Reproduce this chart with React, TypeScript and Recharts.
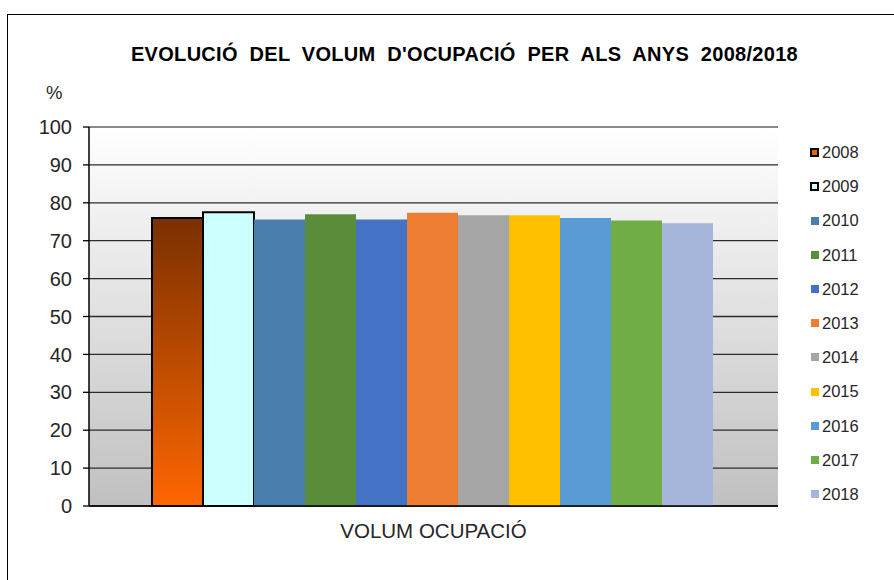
import React from "react";
import {
  BarChart,
  Bar,
  XAxis,
  YAxis,
  CartesianGrid,
  ReferenceLine,
} from "recharts";

// ---- data ----
const categories = ["VOLUM OCUPACIÓ"];
const years = ["2008", "2009", "2010", "2011", "2012", "2013", "2014", "2015", "2016", "2017", "2018"];
const occupancy = [76.0, 77.5, 75.6, 77.0, 75.6, 77.4, 76.7, 76.7, 76.0, 75.3, 74.6];
const yTicks = [0, 10, 20, 30, 40, 50, 60, 70, 80, 90, 100];
const titleText = "EVOLUCIÓ  DEL  VOLUM  D'OCUPACIÓ  PER  ALS  ANYS  2008/2018";
const unitText = "%";

// ---- styles ----
const barFills = [
  "url(#grad2008)",
  "#ccffff",
  "#4a7ead",
  "#5a8c3a",
  "#4472c4",
  "#ed7d31",
  "#a5a5a5",
  "#ffc000",
  "#5b9bd5",
  "#70ad47",
  "#a6b6da",
];
const legendFills = [
  "#f06000",
  "#ccffff",
  "#4a7ead",
  "#5a8c3a",
  "#4472c4",
  "#ed7d31",
  "#a5a5a5",
  "#ffc000",
  "#5b9bd5",
  "#70ad47",
  "#a6b6da",
];
const outlined = [true, true, false, false, false, false, false, false, false, false, false];

const FONT = "'Liberation Sans', Arial, sans-serif";

const chartData = categories.map((c) => {
  const row: Record<string, string | number> = { name: c };
  years.forEach((y, i) => {
    row[y] = occupancy[i];
  });
  return row;
});

function Legend() {
  return (
    <div style={{ position: "absolute", left: 810, top: 144, fontFamily: FONT }}>
      {years.map((y, i) => (
        <div
          key={y}
          style={{
            position: "absolute",
            left: 0,
            top: i * 34.2,
            height: 16.5,
            display: "flex",
            alignItems: "center",
            whiteSpace: "nowrap",
          }}
        >
          <div
            style={{
              width: outlined[i] ? 5 : 8,
              height: outlined[i] ? 5 : 8,
              background: legendFills[i],
              border: outlined[i] ? "2px solid #000" : "none",
              marginLeft: outlined[i] ? 0 : 1,
              marginRight: 3,
            }}
          />
          <span style={{ fontSize: 16.5, lineHeight: "16.5px", color: "#262626" }}>{y}</span>
        </div>
      ))}
    </div>
  );
}

export default function App() {
  return (
    <div style={{ position: "relative", width: 894, height: 580, overflow: "hidden", background: "#fff" }}>
      <style>{`body{margin:0}`}</style>
      <svg width={0} height={0} style={{ position: "absolute" }}>
        <defs>
          <linearGradient id="grad2008" x1="0" y1="0" x2="0" y2="1">
            <stop offset="0%" stopColor="#7a3000" />
            <stop offset="100%" stopColor="#ff6600" />
          </linearGradient>
          <linearGradient id="plotBg" x1="0" y1="0" x2="0" y2="1">
            <stop offset="0%" stopColor="#ffffff" />
            <stop offset="100%" stopColor="#c0c0c0" />
          </linearGradient>
        </defs>
      </svg>
      {/* outer frame (clipped at right/bottom like the reference) */}
      <div
        style={{
          position: "absolute",
          left: 7,
          top: 14,
          width: 900,
          height: 600,
          borderLeft: "1.5px solid #000",
          borderTop: "1.5px solid #000",
        }}
      />
      <div
        style={{
          position: "absolute",
          left: 464.5,
          top: 44,
          transform: "translateX(-50%)",
          fontFamily: FONT,
          fontWeight: "bold",
          fontSize: 20,
          lineHeight: "20px",
          letterSpacing: 0.3,
          whiteSpace: "pre",
          color: "#000",
        }}
      >
        {titleText}
      </div>
      <div
        style={{
          position: "absolute",
          left: 46,
          top: 83.5,
          fontFamily: FONT,
          fontSize: 18.5,
          lineHeight: "18.5px",
          color: "#262626",
        }}
      >
        {unitText}
      </div>
      <div style={{ position: "absolute", left: 0, top: 0 }}>
        <BarChart
          width={894}
          height={580}
          data={chartData}
          margin={{ top: 127, right: 116, bottom: 33, left: 0 }}
          barCategoryGap={63}
          barGap={0}
        >
          <CartesianGrid
            yAxisId="left"
            vertical={false}
            stroke="#2b2b2b"
            strokeWidth={1.3}
            fill="url(#plotBg)"
            fillOpacity={1}
          />
          <XAxis
            xAxisId="edge"
            type="number"
            domain={[0, 1]}
            ticks={[0, 1]}
            tick={false}
            tickSize={7}
            tickLine={{ stroke: "#000", strokeWidth: 1.3 }}
            axisLine={false}
            height={1}
            allowDataOverflow
          />
          <XAxis
            dataKey="name"
            xAxisId="main"
            tickLine={false}
            tickSize={0}
            tickMargin={16}
            height={40}
            axisLine={false}
            tick={{ fontSize: 20.5, fill: "#262626", fontFamily: FONT }}
          />
          <YAxis
            yAxisId="left"
            width={89}
            domain={[0, 100]}
            ticks={yTicks}
            interval={0}
            tickSize={6}
            tickMargin={11}
            axisLine={{ stroke: "#000", strokeWidth: 1.5 }}
            tickLine={{ stroke: "#000", strokeWidth: 1.3 }}
            tick={{ fontSize: 20, fill: "#262626", fontFamily: FONT }}
          />
          <YAxis
            yAxisId="right"
            orientation="right"
            width={0}
            domain={[0, 100]}
            tick={false}
            tickLine={false}
            axisLine={{ stroke: "#8a8a8a", strokeWidth: 2 }}
          />
          <ReferenceLine yAxisId="left" xAxisId="main" y={100} stroke="#8a8a8a" strokeWidth={2} />
          {years.map((y, i) => (
            <Bar
              key={y}
              dataKey={y}
              xAxisId="main"
              yAxisId="left"
              fill={barFills[i]}
              stroke={outlined[i] ? "#000" : "none"}
              strokeWidth={outlined[i] ? 2 : 0}
              isAnimationActive={false}
            />
          ))}
          <ReferenceLine yAxisId="left" xAxisId="main" y={0} stroke="#000" strokeWidth={1.5} />
        </BarChart>
      </div>
      <Legend />
    </div>
  );
}
